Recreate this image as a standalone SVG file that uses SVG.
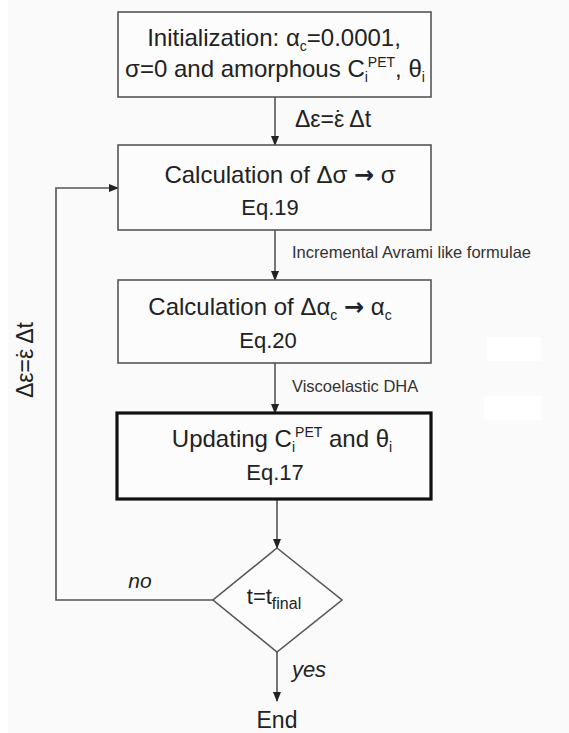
<svg xmlns="http://www.w3.org/2000/svg" width="569" height="733" viewBox="0 0 569 733">
<defs>
<marker id="ah" markerWidth="10" markerHeight="8" refX="9" refY="4" orient="auto" markerUnits="userSpaceOnUse">
<path d="M0,0 L10,4 L0,8 Z" fill="#222"/>
</marker>
<style>
.bg{fill:#fafafa}
.box{fill:#fcfcfc;stroke:#555;stroke-width:1.6}
.boxb{fill:#fcfcfc;stroke:#111;stroke-width:3.2}
.t{font-family:"Liberation Sans",Arial,sans-serif;fill:#222;text-anchor:middle}
.big{font-size:24px}
.eq{font-size:22px}
.mid{font-size:21px}
.lbl{font-family:"Liberation Sans",Arial,sans-serif;fill:#333;font-size:16.5px}
.it{font-style:italic}
.arr{font-family:"DejaVu Sans",sans-serif;font-weight:bold}
.c{fill:none;stroke:#555;stroke-width:1.6}
</style>
</defs>
<rect class="bg" x="0" y="0" width="569" height="733"/>
<rect x="0" y="0" width="8" height="733" fill="#fff"/>
<rect x="487" y="337" width="54" height="24" fill="#fff"/>
<rect x="484" y="396" width="57" height="24" fill="#fff"/>

<g id="connectors">
<line class="c" x1="275" y1="97" x2="275" y2="145" marker-end="url(#ah)"/>
<line class="c" x1="275" y1="230" x2="275" y2="280" marker-end="url(#ah)"/>
<line class="c" x1="275" y1="363" x2="275" y2="413" marker-end="url(#ah)"/>
<line class="c" x1="277" y1="499" x2="277" y2="548" marker-end="url(#ah)"/>
<line class="c" x1="277" y1="652" x2="277" y2="701" marker-end="url(#ah)"/>
<polyline class="c" points="213,600 56,600 56,188 118,188" marker-end="url(#ah)"/>
<text class="t" font-size="23" x="333" y="127">Δε=ε<tspan dx="-9.3">˙</tspan><tspan dx="1.5"> Δt</tspan></text>
<text class="lbl" x="292" y="258">Incremental Avrami like formulae</text>
<text class="lbl" x="292" y="392">Viscoelastic DHA</text>
<text class="t" font-size="23" transform="rotate(-90 33 360)" x="33" y="360">Δε=ε<tspan dx="-9.3">˙</tspan><tspan dx="1.5"> Δt</tspan></text>
<text class="t mid it" x="140" y="588">no</text>
<text class="t it" font-size="22" x="309" y="677">yes</text>
</g>

<g id="init">
<rect class="box" x="118" y="12" width="313" height="85"/>
<text class="t big" x="274" y="46">Initialization: α<tspan font-size="14" dy="5">c</tspan><tspan dy="-5">=0.0001,</tspan></text>
<text class="t big" x="275" y="77">σ=0 and amorphous C<tspan font-size="14" dy="5">i</tspan><tspan font-size="14" dy="-15">PET</tspan><tspan dy="10">, θ</tspan><tspan font-size="14" dy="5">i</tspan></text>
</g>

<g id="calc-sigma">
<rect class="box" x="118" y="145" width="313" height="85"/>
<text class="t big" x="280" y="183">Calculation of Δσ <tspan class="arr">→</tspan> σ</text>
<text class="t eq" x="270" y="215">Eq.19</text>
</g>

<g id="calc-alpha">
<rect class="box" x="118" y="280" width="313" height="83"/>
<text class="t big" x="270" y="315">Calculation of Δα<tspan font-size="14" dy="5">c</tspan><tspan dy="-5"> </tspan><tspan class="arr">→</tspan> α<tspan font-size="14" dy="5">c</tspan></text>
<text class="t eq" x="268" y="348">Eq.20</text>
</g>

<g id="update">
<rect class="boxb" x="117" y="413" width="314" height="86"/>
<text class="t big" x="282" y="447">Updating C<tspan font-size="14" dy="5">i</tspan><tspan font-size="14" dy="-15">PET</tspan><tspan dy="10"> and θ</tspan><tspan font-size="14" dy="5">i</tspan></text>
<text class="t eq" x="275" y="480">Eq.17</text>
</g>

<g id="decision">
<polygon class="box" points="277,548 342,600 277,652 213,600"/>
<text class="t" font-size="22" x="274" y="604">t=t<tspan font-size="16" dy="5">final</tspan></text>
</g>

<g id="end">
<text class="t" font-size="23" x="277" y="728">End</text>
</g>
</svg>
